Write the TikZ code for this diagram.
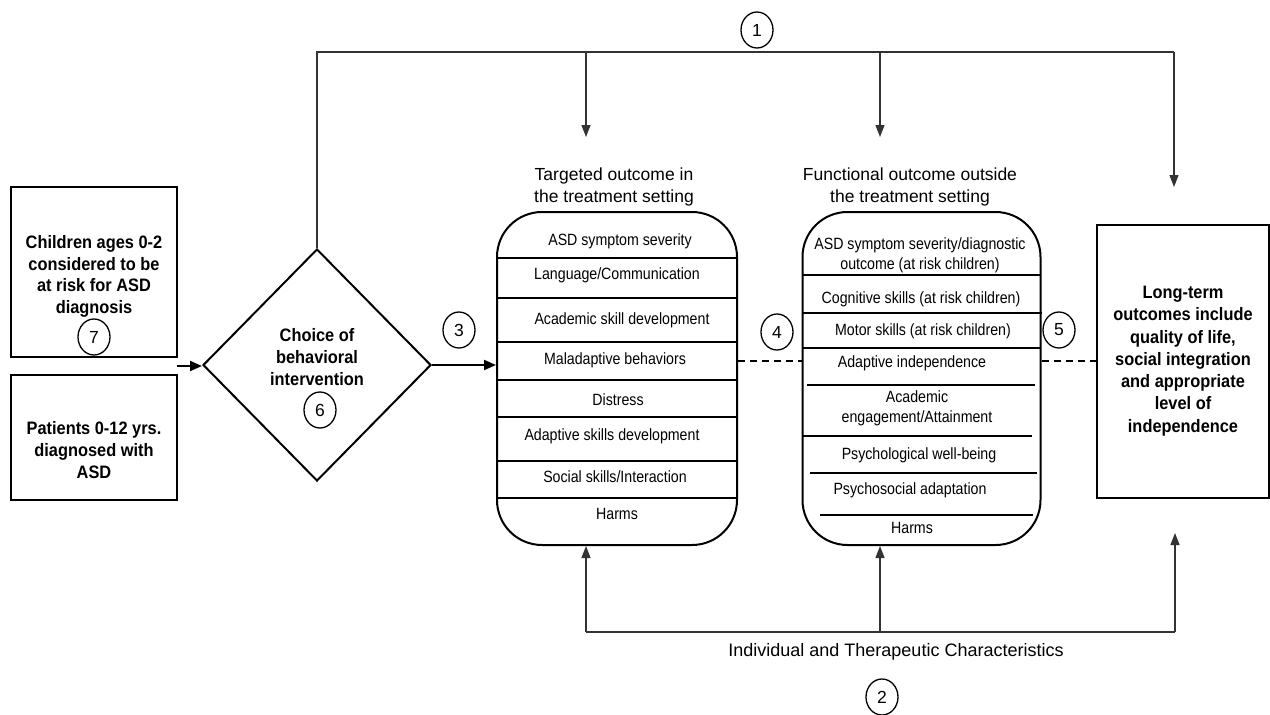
\documentclass[tikz,border=0pt]{standalone}
\usepackage{fontspec}
\setmainfont{Liberation Sans}
\newfontfamily\condfont[FakeStretch=0.87]{Liberation Sans}
\newfontfamily\condbf[FakeStretch=0.91]{Liberation Sans}
\usetikzlibrary{arrows.meta,shapes.geometric,calc}
\begin{document}
\begin{tikzpicture}[x=1pt,y=-1pt,
  box/.style={draw,line width=2pt,inner sep=0pt},
  item/.style={font=\condfont\fontsize{16.3}{20}\selectfont,inner sep=0pt,align=center},
  ttl/.style={font=\fontsize{17.5}{21.5}\selectfont,align=center,inner sep=0pt},
  boldtxt/.style={font=\condbf\bfseries\fontsize{18}{21.6}\selectfont,align=center,inner sep=0pt},
  num/.style={draw,ellipse,line width=1.3pt,minimum width=32pt,minimum height=36pt,inner sep=0pt,font=\fontsize{17.5}{17.5}\selectfont},
  conn/.style={line width=1.3pt,black!80},
  arr/.style={conn,-{Triangle[length=12pt,width=9pt]}},
  thickarr/.style={line width=2pt,-{Triangle[length=12pt,width=10pt]}},
  dashline/.style={line width=2pt,dash pattern=on 7pt off 5pt},
  row/.style={line width=1.8pt}]
\useasboundingbox (0,0) rectangle (1270,715);

% left boxes
\node[box,minimum width=166pt,minimum height=170pt] (b1) at (94,272) {};
\node[boldtxt] (b1t) at (94,276.5) {Children ages 0-2\\considered to be\\at risk for ASD\\diagnosis};
\node[num] (n7) at (94,337) {7};
\node[box,minimum width=166pt,minimum height=125pt] (b2) at (94,437.5) {};
\node[boldtxt] (b2t) at (94,450) {Patients 0-12 yrs.\\diagnosed with\\ASD};

% diamond
\node[draw,diamond,line width=2pt,minimum width=228pt,minimum height=232pt,inner sep=0pt] (dia) at (317,365) {};
\node[boldtxt] (dt) at (317,357) {Choice of\\behavioral\\intervention};
\node[num] (n6) at (320,410) {6};

% box A
\node[ttl] (tA) at (614,187) {Targeted outcome in\\the treatment setting};
\node[box,rounded corners=45pt,minimum width=240pt,minimum height=333pt] (A) at (617,378.5) {};
\foreach \y in {258,298,342,380,417,461,498} \draw[row] (497,\y) -- (737,\y);
\node[item] (a1) at (620,241) {ASD symptom severity};
\node[item] (a2) at (617,275) {Language/Communication};
\node[item] (a3) at (622,320) {Academic skill development};
\node[item] (a4) at (615,360) {Maladaptive behaviors};
\node[item] (a5) at (618,400) {Distress};
\node[item] (a6) at (612,436) {Adaptive skills development};
\node[item] (a7) at (615,477) {Social skills/Interaction};
\node[item] (a8) at (617,514) {Harms};

% box B
\node[ttl] (tB) at (910,187) {Functional outcome outside\\the treatment setting};
\node[box,rounded corners=45pt,minimum width=238pt,minimum height=333pt] (B) at (921.5,378.5) {};
\draw[row] (803,275) -- (1040,275);
\draw[row] (803,313) -- (1042,313);
\draw[row] (803,348) -- (1040,348);
\draw[row] (807,385) -- (1035,385);
\draw[row] (803,436) -- (1032,436);
\draw[row] (810,473) -- (1037,473);
\draw[row] (820,515) -- (1033,515);
\node[item] (c1) at (920,255) {ASD symptom severity/diagnostic\\outcome (at risk children)};
\node[item] (c2) at (921,299) {Cognitive skills (at risk children)};
\node[item] (c3) at (923,331) {Motor skills (at risk children)};
\node[item] (c4) at (912,363) {Adaptive independence};
\node[item] (c5) at (917,408) {Academic\\engagement/Attainment};
\node[item] (c6) at (919,455) {Psychological well-being};
\node[item] (c7) at (910,490) {Psychosocial adaptation};
\node[item] (c8) at (912,528) {Harms};

% long-term box
\node[box,minimum width=172pt,minimum height=273pt] (L) at (1183,361.5) {};
\node[boldtxt,font=\condbf\bfseries\fontsize{18}{22.3}\selectfont] (Lt) at (1183,361) {Long-term\\outcomes include\\quality of life,\\social integration\\and appropriate\\level of\\independence};

% numbers
\node[num] (n1) at (757,30) {1};
\node[num] (n2) at (882,697) {2};
\node[num] (n3) at (459,330) {3};
\node[num] (n4) at (777,332) {4};
\node[num] (n5) at (1059,330) {5};

% connectors
\coordinate (in) at (177,366);
\draw[thickarr] (in) -- (in -| dia.west);
\draw[thickarr] (dia.east) -- (dia.east -| A.west);
\coordinate (m4) at (770,361);
\draw[dashline] (A.east |- m4) -- (B.west |- m4);
\draw[dashline] (B.east |- m4) -- (L.west |- m4);

\coordinate (tr) at (1174,52);
\draw[conn] (dia.north) -- (dia.north |- tr) -- (tr);
\coordinate (ta) at (586,137);
\coordinate (tb) at (880,137);
\coordinate (tc) at (1174,187);
\draw[arr] (ta |- tr) -- (ta);
\draw[arr] (tb |- tr) -- (tb);
\draw[arr] (tr) -- (tc);

\coordinate (bl) at (586,632);
\coordinate (bm) at (880,632);
\coordinate (br) at (1175,632);
\coordinate (bc) at (1175,533);
\draw[conn] (bl) -- (br);
\draw[arr] (bl) -- (bl |- A.south);
\draw[arr] (bm) -- (bm |- B.south);
\draw[arr] (br) -- (bc);
\node[ttl,font=\fontsize{18}{21}\selectfont] (ind) at (896,652) {Individual and Therapeutic Characteristics};
\end{tikzpicture}
\end{document}
